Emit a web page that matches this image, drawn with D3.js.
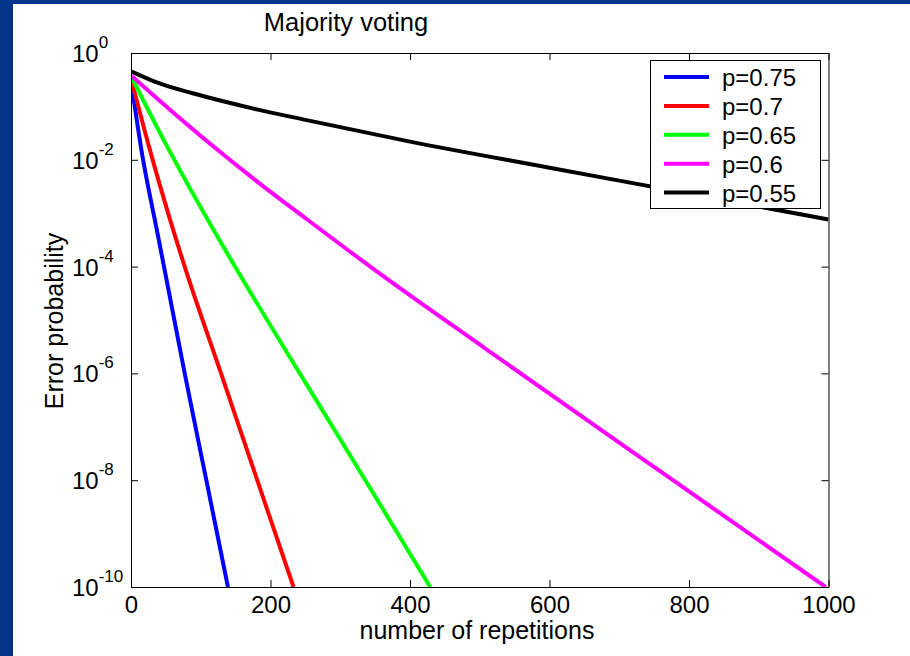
<!DOCTYPE html>
<html>
<head>
<meta charset="utf-8">
<script src="https://cdn.jsdelivr.net/npm/d3@7"></script>
<style>
  html, body { margin: 0; padding: 0; background: #ffffff; }
  svg { display: block; }
  text { font-family: Arial, "Liberation Sans", Helvetica, sans-serif; fill: #000; }
</style>
</head>
<body>
<svg id="chart" width="910" height="656"></svg>
<script>
// ---------- data ----------
const seriesNames = ["p=0.75", "p=0.7", "p=0.65", "p=0.6", "p=0.55"];

const nP75 = [1, 15, 37, 48, 77, 108, 139];
const eP75 = [0.25, 0.015, 4.9e-4, 9.0e-5, 1.0e-6, 1.0e-8, 1.0e-10];

const nP70 = [1, 27, 56, 77, 128, 181, 233];
const eP70 = [0.3, 0.0155, 7.6e-4, 1.0e-4, 1.1e-6, 1.0e-8, 1.0e-10];

const nP65 = [1, 51, 116, 144, 242, 336, 429];
const eP65 = [0.35, 0.0186, 5.5e-4, 1.3e-4, 1.0e-6, 1.0e-8, 1.0e-10];

const nP60 = [1, 39, 120, 180, 250, 343, 510, 777, 996];
const eP60 = [0.37, 0.135, 0.017, 0.004, 8.1e-4, 1.0e-4, 2.8e-6, 1.0e-8, 1.0e-10];

const nP55 = [1, 39, 87, 135, 182, 250, 400, 600, 800, 1000];
const eP55 = [0.45, 0.275, 0.178, 0.122, 0.087, 0.056, 0.0219, 0.0071, 0.00234, 7.6e-4];

const xTicks = [0, 200, 400, 600, 800, 1000];
const yTicks = [1, 1e-2, 1e-4, 1e-6, 1e-8, 1e-10];

const titleText = "Majority voting";
const xLabelText = "number of repetitions";
const yLabelText = "Error probability";

// ---------- styles ----------
const colors = ["#0000ff", "#ff0000", "#00ff00", "#ff00ff", "#000000"];
const frameBlue = "#03368a";

const seriesData = [
  d3.zip(nP75, eP75), d3.zip(nP70, eP70), d3.zip(nP65, eP65),
  d3.zip(nP60, eP60), d3.zip(nP55, eP55)
];

const svg = d3.select("#chart");

// slide frame
svg.append("rect").attr("x", 0).attr("y", 0).attr("width", 910).attr("height", 4).attr("fill", frameBlue);
svg.append("rect").attr("x", 0).attr("y", 0).attr("width", 13).attr("height", 656).attr("fill", frameBlue);

const pL = 131, pR = 828.5, pT = 53, pB = 587;
const x = d3.scaleLinear().domain([0, 1000]).range([pL, pR]);
const y = d3.scaleLog().domain([1e-10, 1]).range([pB, pT]);

svg.append("rect").attr("x", pL).attr("y", pT).attr("width", pR - pL).attr("height", pB - pT).attr("fill", "#fff");

svg.append("defs").append("clipPath").attr("id", "clip")
  .append("rect").attr("x", pL).attr("y", pT).attr("width", pR - pL).attr("height", pB - pT);

// lines
const line = d3.line().x(d => x(d[0])).y(d => y(d[1])).curve(d3.curveMonotoneX);
const gLines = svg.append("g").attr("clip-path", "url(#clip)");
seriesData.forEach((s, i) => {
  gLines.append("path").datum(s)
    .attr("d", line)
    .attr("fill", "none")
    .attr("stroke", colors[i])
    .attr("stroke-width", 4)
    .attr("stroke-linejoin", "round");
});

// axes
function styleAxis(g) {
  g.selectAll("path.domain").attr("stroke", "#000").attr("stroke-width", 1);
  g.selectAll(".tick line").attr("stroke", "#000").attr("stroke-width", 1);
}
const gBottom = svg.append("g").attr("transform", `translate(0,${pB})`)
  .call(d3.axisBottom(x).tickValues(xTicks).tickSizeInner(-7).tickSizeOuter(0).tickFormat(d3.format("d")));
styleAxis(gBottom);
gBottom.selectAll(".tick text").attr("y", 26).attr("dy", 0)
  .attr("font-size", 24).attr("font-family", "Arial, 'Liberation Sans', sans-serif").attr("fill", "#000");

const gTop = svg.append("g").attr("transform", `translate(0,${pT})`)
  .call(d3.axisTop(x).tickValues(xTicks).tickSizeInner(-7).tickSizeOuter(0).tickFormat(""));
styleAxis(gTop);

const gLeft = svg.append("g").attr("transform", `translate(${pL},0)`)
  .call(d3.axisLeft(y).tickValues(yTicks).tickSizeInner(-7).tickSizeOuter(0).tickFormat(""));
styleAxis(gLeft);

const gRight = svg.append("g").attr("transform", `translate(${pR},0)`)
  .call(d3.axisRight(y).tickValues(yTicks).tickSizeInner(-7).tickSizeOuter(0).tickFormat(""));
styleAxis(gRight);

// y tick labels 10^k
yTicks.forEach(v => {
  const k = Math.round(Math.log10(v));
  const t = svg.append("text").attr("x", 72).attr("y", y(v) + 9).attr("font-size", 24);
  t.append("tspan").text("10");
  t.append("tspan").attr("dy", -14).attr("font-size", 17).text(String(k));
});

// title & labels
svg.append("text").attr("x", 346).attr("y", 31).attr("text-anchor", "middle").attr("font-size", 25.5).text(titleText);
svg.append("text").attr("x", 477).attr("y", 639).attr("text-anchor", "middle").attr("font-size", 25).text(xLabelText);
svg.append("text").attr("transform", "translate(63,321) rotate(-90)").attr("text-anchor", "middle").attr("font-size", 25).text(yLabelText);

// legend
const lg = svg.append("g");
lg.append("rect").attr("x", 650.5).attr("y", 60.5).attr("width", 170).attr("height", 148)
  .attr("fill", "#fff").attr("stroke", "#000").attr("stroke-width", 1);
seriesNames.forEach((name, i) => {
  const cy = 77 + i * 28.9;
  lg.append("line").attr("x1", 664).attr("x2", 709).attr("y1", cy).attr("y2", cy)
    .attr("stroke", colors[i]).attr("stroke-width", 4);
  lg.append("text").attr("x", 722).attr("y", cy + 9).attr("font-size", 24).text(name);
});
</script>
</body>
</html>
